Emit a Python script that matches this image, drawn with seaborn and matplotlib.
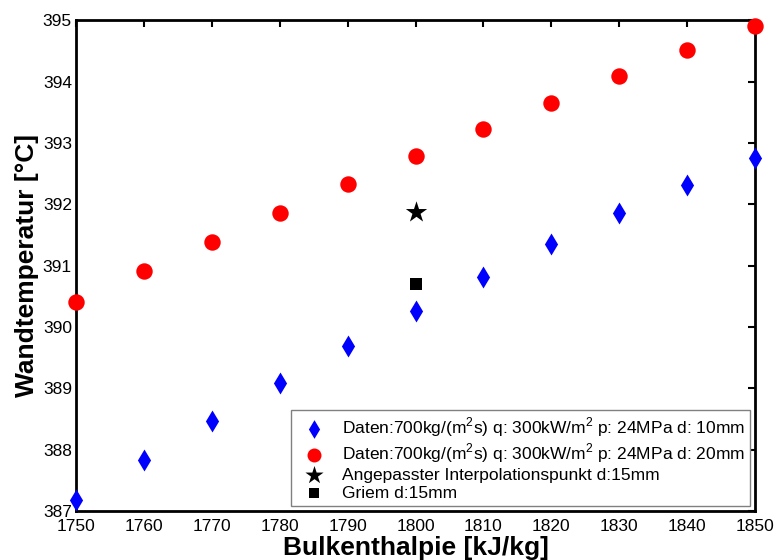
import matplotlib
matplotlib.use("Agg")
import matplotlib.pyplot as plt
import seaborn as sns
import pandas as pd

# Bulk enthalpy grid [kJ/kg]
enthalpy = [1750, 1760, 1770, 1780, 1790, 1800, 1810, 1820, 1830, 1840, 1850]
# Wall temperature for d = 10 mm
wall_10mm = [387.18, 387.83, 388.47, 389.08, 389.69, 390.26, 390.81, 391.35, 391.85, 392.31, 392.76]
# Wall temperature for d = 20 mm
wall_20mm = [390.41, 390.91, 391.38, 391.86, 392.33, 392.79, 393.23, 393.65, 394.09, 394.51, 394.90]
# Interpolated point and Griem correlation at d = 15 mm
interp_x = [1800]
interp_y = [391.88]
griem_x = [1800]
griem_y = [390.70]

labels = [
    r"Daten:700kg/(m$^2$s) q: 300kW/m$^2$ p: 24MPa d: 10mm",
    r"Daten:700kg/(m$^2$s) q: 300kW/m$^2$ p: 24MPa d: 20mm",
    "Angepasster Interpolationspunkt d:15mm",
    "Griem d:15mm",
]

sns.set_style("white")
plt.rcParams["font.family"] = ["Liberation Sans", "DejaVu Sans"]
plt.rcParams["mathtext.fontset"] = "custom"
plt.rcParams["mathtext.rm"] = "Liberation Sans"
plt.rcParams["text.color"] = "black"
plt.rcParams["axes.labelcolor"] = "black"

fig = plt.figure(figsize=(7.76, 5.6), dpi=100)
ax = fig.add_axes([0.098, 0.0875, 0.875, 0.8765])

df10 = pd.DataFrame({"h": enthalpy, "T": wall_10mm})
df20 = pd.DataFrame({"h": enthalpy, "T": wall_20mm})
dfi = pd.DataFrame({"h": interp_x, "T": interp_y})
dfg = pd.DataFrame({"h": griem_x, "T": griem_y})

sns.scatterplot(data=df10, x="h", y="T", ax=ax, marker="d", s=125, color="#0000ff",
                edgecolor="#0000ff", linewidth=0, label=labels[0], clip_on=False, zorder=3)
sns.scatterplot(data=df20, x="h", y="T", ax=ax, marker="o", s=140, color="#ff0000",
                edgecolor="#ff0000", linewidth=0, label=labels[1], clip_on=False, zorder=3)
sns.scatterplot(data=dfi, x="h", y="T", ax=ax, marker="*", s=260, color="black",
                edgecolor="black", linewidth=0, label=labels[2], clip_on=False, zorder=3)
sns.scatterplot(data=dfg, x="h", y="T", ax=ax, marker="s", s=80, color="black",
                edgecolor="black", linewidth=0, label=labels[3], clip_on=False, zorder=3)

ax.set_xlim(1750, 1850)
ax.set_ylim(387, 395)
ax.set_xticks(range(1750, 1851, 10))
ax.set_yticks(range(387, 396, 1))

ax.tick_params(direction="in", length=5, width=1.5, top=True, right=True,
               labelsize=12.5, colors="black")
ax.tick_params(axis="x", pad=6)
ax.tick_params(axis="y", pad=3)
for sp in ax.spines.values():
    sp.set_visible(True)
    sp.set_color("black")
    sp.set_linewidth(2)

ax.set_xlabel("Bulkenthalpie [kJ/kg]", fontsize=19, fontweight="bold", labelpad=1)
ax.set_ylabel("Wandtemperatur [°C]", fontsize=19, fontweight="bold", labelpad=3)

leg = ax.legend(loc="lower right", fontsize=12.5, frameon=True, fancybox=False,
                edgecolor="#808080", framealpha=1, borderaxespad=0.3,
                handletextpad=0.6, labelspacing=0.15, borderpad=0.3,
                markerscale=0.85)
leg.get_frame().set_linewidth(1)

fig.savefig("out.png", dpi=100)
